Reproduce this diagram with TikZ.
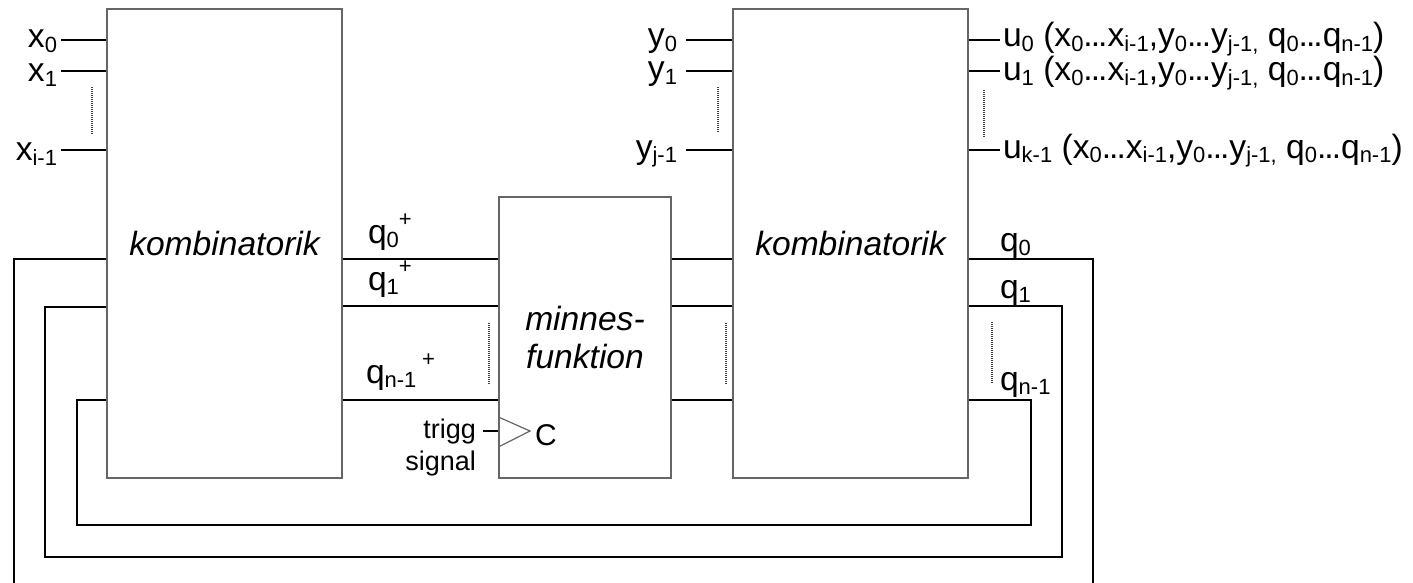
\documentclass[tikz,border=0pt]{standalone}
\usepackage{fontspec}
\setmainfont{Liberation Sans}
\newcommand{\mainsz}{\fontsize{16.8}{19}\selectfont}
\newcommand{\lsub}[1]{\raisebox{-2.2pt}{\fontsize{11}{11}\selectfont #1}}
\newcommand{\lsup}[1]{\raisebox{8.5pt}{\fontsize{11}{11}\selectfont #1}}
\newcommand{\ldt}{.\kern-1pt.\kern-1pt.}
\newcommand{\ufun}{(x\lsub{0}\ldt x\lsub{i-1},y\lsub{0}\ldt y\lsub{j-1,} q\lsub{0}\ldt q\lsub{n-1})}
\tikzset{
  lbl/.style={inner sep=0pt, outer sep=0pt, font=\mainsz},
  blk/.style={draw=black!60, line width=0.6pt, inner sep=0pt, font=\mainsz\itshape, align=center},
  wire/.style={draw=black, line width=0.6pt},
  dots/.style={draw=black!75, line width=0.8pt, dash pattern=on 0.5pt off 0.5pt},
}
\begin{document}
\begin{tikzpicture}[x=0.5pt,y=-0.5pt]
\useasboundingbox (0,0) rectangle (1413,583);
% blocks
\node[blk, minimum width=117.5pt, minimum height=234.5pt] (K1) at (224.5,243.5) {kombinatorik};
\node[blk, minimum width=86pt, minimum height=140.5pt] (M) at (585,337.5) {minnes-\\funktion};
\node[blk, minimum width=117.5pt, minimum height=234.5pt] (K2) at (850.5,243.5) {kombinatorik};

% x inputs
\coordinate (xa) at (61,40);
\coordinate (xb) at (61,71);
\coordinate (xc) at (61,150);
\draw[wire] (xa) -- (xa -| K1.west);
\draw[wire] (xb) -- (xb -| K1.west);
\draw[wire] (xc) -- (xc -| K1.west);
\node[lbl, anchor=base east] (lx0) at (57,48) {x\lsub{0}};
\node[lbl, anchor=base east] (lx1) at (57,82) {x\lsub{1}};
\node[lbl, anchor=base east] (lxi) at (57,161) {x\lsub{i-1}};
\coordinate (xd1) at (92,87);
\coordinate (xd2) at (92,134);
\draw[dots] (xd1) -- (xd2);

% y inputs
\coordinate (ya) at (686,40);
\coordinate (yb) at (686,71);
\coordinate (yc) at (686,150);
\draw[wire] (ya) -- (ya -| K2.west);
\draw[wire] (yb) -- (yb -| K2.west);
\draw[wire] (yc) -- (yc -| K2.west);
\node[lbl, anchor=base east] (ly0) at (677,47) {y\lsub{0}};
\node[lbl, anchor=base east] (ly1) at (677,80) {y\lsub{1}};
\node[lbl, anchor=base east] (lyj) at (677,158) {y\lsub{j-1}};
\coordinate (yd1) at (718,87);
\coordinate (yd2) at (718,133);
\draw[dots] (yd1) -- (yd2);

% u outputs
\coordinate (ua) at (1000,40);
\coordinate (ub) at (1000,71);
\coordinate (uc) at (1000,150);
\draw[wire] (ua -| K2.east) -- (ua);
\draw[wire] (ub -| K2.east) -- (ub);
\draw[wire] (uc -| K2.east) -- (uc);
\node[lbl, anchor=base west] (lu0) at (1003,47) {u\lsub{0} \ufun};
\node[lbl, anchor=base west] (lu1) at (1003,81) {u\lsub{1} \ufun};
\node[lbl, anchor=base west] (luk) at (1003,158) {u\lsub{k-1} \ufun};
\coordinate (ud1) at (984,90);
\coordinate (ud2) at (984,137);
\draw[dots] (ud1) -- (ud2);

% q+ lines K1 -> M
\coordinate (qa) at (0,259);
\coordinate (qb) at (0,306);
\coordinate (qc) at (0,400);
\draw[wire] (qa -| K1.east) -- (qa -| M.west);
\draw[wire] (qb -| K1.east) -- (qb -| M.west);
\draw[wire] (qc -| K1.east) -- (qc -| M.west);
\node[lbl, anchor=base west] (lq0p) at (368,243) {q\lsub{0}\lsup{+}};
\node[lbl, anchor=base west] (lq1p) at (368,290) {q\lsub{1}\lsup{+}};
\node[lbl, anchor=base west] (lqnp) at (366,383) {q\lsub{n-1}\,\lsup{+}};
\coordinate (qd1) at (489,323);
\coordinate (qd2) at (489,385);
\draw[dots] (qd1) -- (qd2);

% q lines M -> K2
\draw[wire] (qa -| M.east) -- (qa -| K2.west);
\draw[wire] (qb -| M.east) -- (qb -| K2.west);
\draw[wire] (qc -| M.east) -- (qc -| K2.west);
\coordinate (md1) at (726,323);
\coordinate (md2) at (726,385);
\draw[dots] (md1) -- (md2);

% feedback loops
\coordinate (R0) at (1093,583);
\coordinate (L0) at (14,583);
\coordinate (R1) at (1062,557);
\coordinate (L1) at (45,307);
\coordinate (Rn) at (1031,525);
\coordinate (Ln) at (77,400);
\draw[wire] (qa -| K2.east) -| (R0);
\draw[wire] (L0) |- (qa -| K1.west);
\draw[wire] (qb -| K2.east) -| (R1) -| (L1) -- (L1 -| K1.west);
\draw[wire] (qc -| K2.east) -| (Rn) -| (Ln) -- (Ln -| K1.west);
\node[lbl, anchor=base west] (lq0) at (1000,251) {q\lsub{0}};
\node[lbl, anchor=base west] (lq1) at (1000,298) {q\lsub{1}};
\node[lbl, anchor=base west] (lqn) at (1000,390) {q\lsub{n-1}};
\coordinate (rd1) at (992,322);
\coordinate (rd2) at (992,384);
\draw[dots] (rd1) -- (rd2);

% clock input
\coordinate (trg) at (483,431);
\coordinate (Ctip) at (530,431);
\draw[wire] (trg) -- (trg -| M.west);
\draw[draw=black!60, line width=0.6pt] (M.west |- 0,417) -- (Ctip) -- (M.west |- 0,447);
\node[lbl, anchor=base west, font=\fontsize{15}{15}\selectfont] (Cl) at (535,445) {C};
\node[lbl, anchor=base east, font=\fontsize{13.5}{16}\selectfont] (tl) at (476,438) {trigg};
\node[lbl, anchor=base east, font=\fontsize{13.5}{16}\selectfont] (sl) at (476,470) {signal};
\end{tikzpicture}
\end{document}
